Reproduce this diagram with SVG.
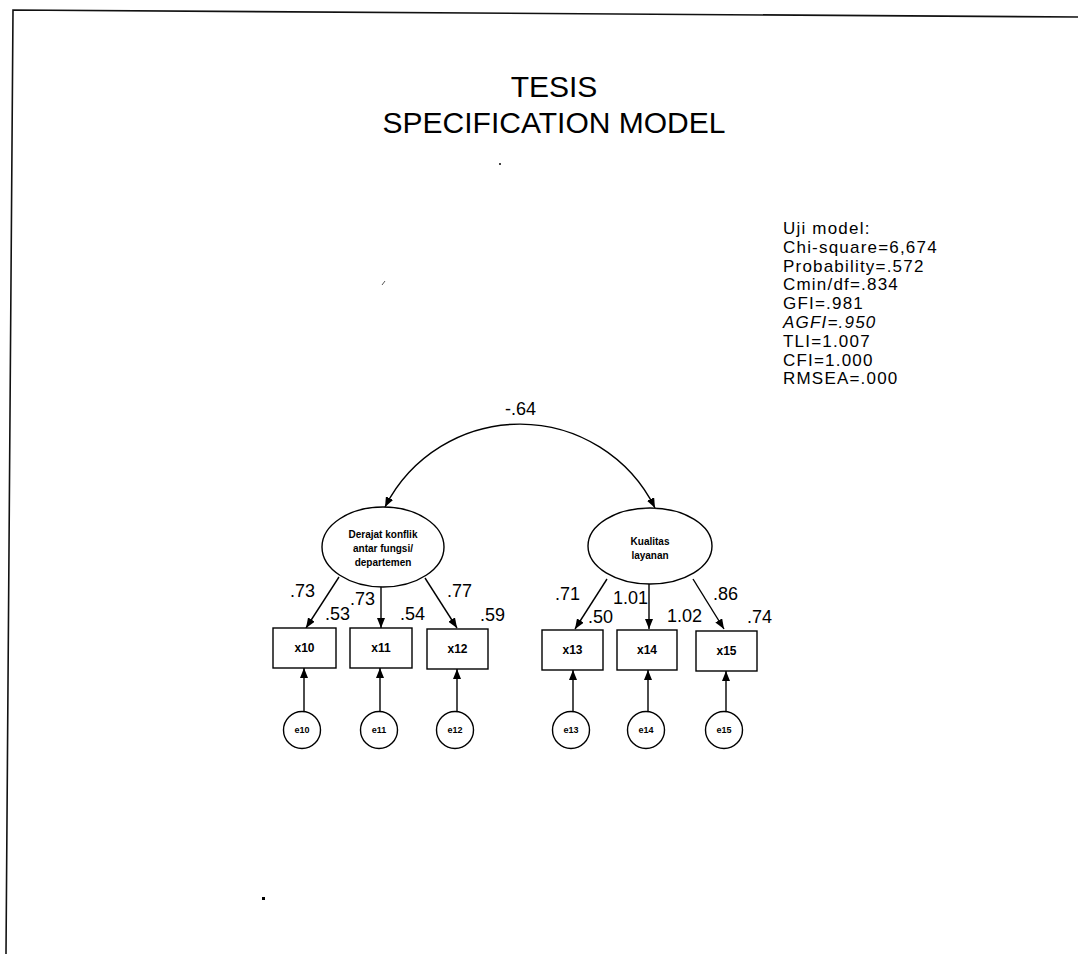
<svg xmlns="http://www.w3.org/2000/svg" width="1078" height="954" viewBox="0 0 1078 954">
  <defs>
    <marker id="head" viewBox="0 0 10 8" refX="10" refY="4" markerWidth="10" markerHeight="8" markerUnits="userSpaceOnUse" orient="auto-start-reverse">
      <path d="M0,0 L10,4 L0,8 z" fill="#000"/>
    </marker>
    <style>
      .frame { fill: none; stroke: #111; stroke-width: 1.6; }
      .shape { fill: #fff; stroke: #000; stroke-width: 1.4; }
      .edge { fill: none; stroke: #000; stroke-width: 1.4; marker-end: url(#head); }
      .title { font-family: "Liberation Sans", Arial, sans-serif; font-size: 30px; fill: #000; text-anchor: middle; }
      .fit { font-family: "Liberation Sans", Arial, sans-serif; font-size: 17px; fill: #000; letter-spacing: 1.2px; }
      .coef { font-family: "Liberation Sans", Arial, sans-serif; font-size: 18px; fill: #000; }
      .lat { font-family: "Liberation Sans", Arial, sans-serif; font-size: 10px; font-weight: bold; fill: #000; text-anchor: middle; }
      .obs { font-family: "Liberation Sans", Arial, sans-serif; font-size: 12px; font-weight: bold; fill: #000; text-anchor: middle; }
      .err { font-family: "Liberation Sans", Arial, sans-serif; font-size: 9px; font-weight: bold; fill: #000; text-anchor: middle; }
    </style>
  </defs>

  <rect width="1078" height="954" fill="#fff"/>

  <!-- page frame -->
  <path class="frame" d="M1078,17 L13,10 L6,954"/>

  <!-- specks -->
  <rect x="499" y="163" width="2" height="2" fill="#444"/>
  <path d="M382,285 L385,281" stroke="#555" stroke-width="1"/>
  <rect x="262" y="897" width="3" height="3" fill="#000"/>

  <!-- title -->
  <g id="title">
    <text class="title" x="554" y="97">TESIS</text>
    <text class="title" x="554" y="133">SPECIFICATION MODEL</text>
  </g>

  <!-- model fit summary -->
  <g id="fit-stats">
    <text class="fit" x="783" y="234">Uji model:</text>
    <text class="fit" x="783" y="253">Chi-square=6,674</text>
    <text class="fit" x="783" y="272">Probability=.572</text>
    <text class="fit" x="783" y="290">Cmin/df=.834</text>
    <text class="fit" x="783" y="309">GFI=.981</text>
    <text class="fit" x="783" y="328" font-style="italic">AGFI=.950</text>
    <text class="fit" x="783" y="347">TLI=1.007</text>
    <text class="fit" x="783" y="366">CFI=1.000</text>
    <text class="fit" x="783" y="384">RMSEA=.000</text>
  </g>

  <!-- connectors -->
  <g id="connectors">
    <!-- covariance between latents -->
    <path class="edge" d="M385,507 A151,151 0 0 1 655,508" marker-start="url(#head)"/>
    <!-- loadings: Derajat konflik -->
    <path class="edge" d="M339,577 L306,628"/>
    <path class="edge" d="M381,587 L381,628"/>
    <path class="edge" d="M425,578 L457,628"/>
    <!-- loadings: Kualitas layanan -->
    <path class="edge" d="M607,579 L575,629"/>
    <path class="edge" d="M649,584 L649,629"/>
    <path class="edge" d="M693,579 L724,629"/>
    <!-- error terms -->
    <path class="edge" d="M304,711 L304,668"/>
    <path class="edge" d="M380,711 L380,668"/>
    <path class="edge" d="M457,711 L457,669"/>
    <path class="edge" d="M573,711 L573,670"/>
    <path class="edge" d="M648,711 L648,670"/>
    <path class="edge" d="M726,711 L726,671"/>
  </g>

  <!-- coefficient labels -->
  <g id="coefficients">
    <text class="coef" x="505" y="415">-.64</text>
    <text class="coef" x="290" y="597">.73</text>
    <text class="coef" x="325" y="620">.53</text>
    <text class="coef" x="350" y="605">.73</text>
    <text class="coef" x="400" y="620">.54</text>
    <text class="coef" x="447" y="597">.77</text>
    <text class="coef" x="480" y="621">.59</text>
    <text class="coef" x="555" y="600">.71</text>
    <text class="coef" x="613" y="604">1.01</text>
    <text class="coef" x="588" y="623">.50</text>
    <text class="coef" x="667" y="622">1.02</text>
    <text class="coef" x="713" y="600">.86</text>
    <text class="coef" x="747" y="623">.74</text>
  </g>

  <!-- latent variables -->
  <g id="latent-konflik">
    <ellipse class="shape" cx="383" cy="547" rx="61" ry="40"/>
    <text class="lat" x="383" y="538">Derajat konflik</text>
    <text class="lat" x="383" y="552">antar fungsi/</text>
    <text class="lat" x="383" y="566">departemen</text>
  </g>
  <g id="latent-kualitas">
    <ellipse class="shape" cx="650" cy="546" rx="62" ry="38"/>
    <text class="lat" x="650" y="545">Kualitas</text>
    <text class="lat" x="650" y="559">layanan</text>
  </g>

  <!-- observed indicators -->
  <g id="x10"><rect class="shape" x="273" y="628" width="63" height="40"/><text class="obs" x="304.5" y="652">x10</text></g>
  <g id="x11"><rect class="shape" x="350" y="628" width="62" height="40"/><text class="obs" x="381" y="652">x11</text></g>
  <g id="x12"><rect class="shape" x="427" y="629" width="61" height="40"/><text class="obs" x="457.5" y="653">x12</text></g>
  <g id="x13"><rect class="shape" x="542" y="630" width="61" height="40"/><text class="obs" x="572.5" y="654">x13</text></g>
  <g id="x14"><rect class="shape" x="617" y="630" width="60" height="40"/><text class="obs" x="647" y="654">x14</text></g>
  <g id="x15"><rect class="shape" x="696" y="631" width="61" height="40"/><text class="obs" x="726.5" y="655">x15</text></g>

  <!-- error terms -->
  <g id="e10"><circle class="shape" cx="302" cy="730" r="18.5"/><text class="err" x="302" y="733">e10</text></g>
  <g id="e11"><circle class="shape" cx="379" cy="730" r="18.5"/><text class="err" x="379" y="733">e11</text></g>
  <g id="e12"><circle class="shape" cx="455" cy="730" r="18.5"/><text class="err" x="455" y="733">e12</text></g>
  <g id="e13"><circle class="shape" cx="571" cy="730" r="18.5"/><text class="err" x="571" y="733">e13</text></g>
  <g id="e14"><circle class="shape" cx="646" cy="730" r="18.5"/><text class="err" x="646" y="733">e14</text></g>
  <g id="e15"><circle class="shape" cx="724" cy="730" r="18.5"/><text class="err" x="724" y="733">e15</text></g>
</svg>
